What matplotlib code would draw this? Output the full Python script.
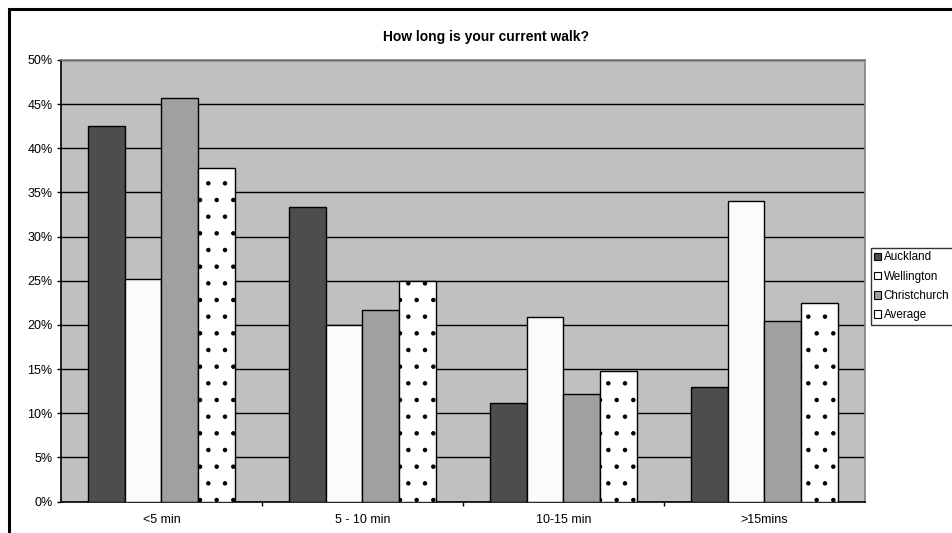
import numpy as np
import matplotlib
matplotlib.use("Agg")
import matplotlib.pyplot as plt
from matplotlib.patches import Patch, Rectangle

plt.rcParams['font.family'] = ['Liberation Sans', 'DejaVu Sans']
plt.rcParams['hatch.linewidth'] = 0.8

categories = ["<5 min", "5 - 10 min", "10-15 min", ">15mins"]
series = ["Auckland", "Wellington", "Christchurch", "Average"]
auckland = [42.5, 33.3, 11.2, 13.0]
wellington = [25.2, 20.0, 20.9, 34.0]
christchurch = [45.7, 21.7, 12.2, 20.4]
average = [37.8, 25.0, 14.8, 22.5]
yticks = [0, 5, 10, 15, 20, 25, 30, 35, 40, 45, 50]

values = [auckland, wellington, christchurch, average]
fills = ["#4d4d4d", "#fbfbfb", "#a0a0a0", "#ffffff"]
hatches = [None, None, None, "."]

fig = plt.figure(figsize=(9.53, 5.33), dpi=100)
ax = fig.add_axes([61 / 953, 1 - 501.5 / 533, (865 - 61) / 953, (501.5 - 60) / 533])
ax.set_facecolor("#c0c0c0")

x = np.arange(len(categories))
w = 1 / 5.5
for i, (vals, fc, h) in enumerate(zip(values, fills, hatches)):
    ax.bar(x + (i - 1.5) * w, vals, width=w, color=fc, edgecolor="black",
           linewidth=1.0, hatch=h, zorder=3)

ax.set_xlim(-0.5, 3.5)
ax.set_ylim(0, 50)
ax.set_yticks(yticks)
ax.set_yticklabels([f"{t}%" for t in yticks], fontsize=9)
ax.yaxis.grid(True, color="black", linewidth=1.0, zorder=1)
ax.set_axisbelow(True)
ax.tick_params(axis="y", length=3, width=1, pad=3, direction="out")

# tick marks sit between groups, labels at group centres
ax.set_xticks([0.5, 1.5, 2.5])
ax.set_xticklabels([])
ax.tick_params(axis="x", which="major", length=3, width=1, direction="out")
ax.set_xticks(x, minor=True)
ax.set_xticklabels(categories, minor=True, fontsize=9)
ax.tick_params(axis="x", which="minor", length=0, pad=9)

ax.spines["left"].set_color("black")
ax.spines["bottom"].set_color("black")
ax.spines["top"].set_color("#808080")
ax.spines["right"].set_color("#808080")
for s in ax.spines.values():
    s.set_linewidth(1.2)

fig.text(486 / 953, 1 - 37 / 533, "How long is your current walk?", ha="center",
         va="center", fontsize=10, fontweight="bold")

handles = [Patch(facecolor=fc, edgecolor="black", linewidth=0.8) for fc in fills]
fig.legend(handles, series, loc="upper left", bbox_to_anchor=(871 / 953, 1 - 248 / 533),
           fontsize=8.4, frameon=True, fancybox=False, edgecolor="black",
           handlelength=0.6, handleheight=0.6, handletextpad=0.2,
           borderpad=0.3, labelspacing=0.62, borderaxespad=0)

# chart area frame
fig.patches.append(Rectangle((9.5 / 953, -0.1), 1.2, 1 - 9.5 / 533 + 0.1,
                             transform=fig.transFigure, fill=False,
                             edgecolor="black", linewidth=2.2))

fig.savefig("out.png", dpi=100)
